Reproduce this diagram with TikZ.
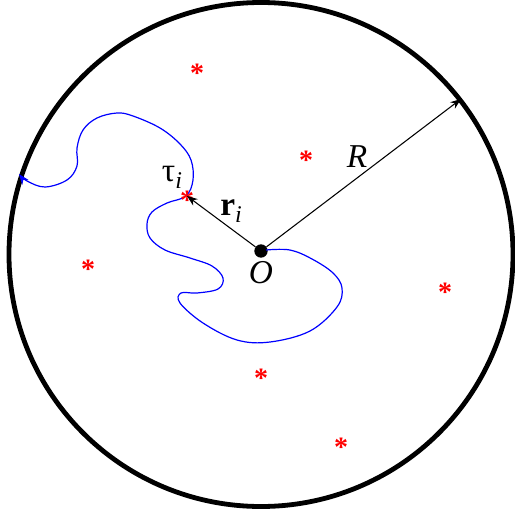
\documentclass[tikz,border=0pt]{standalone}
\usepackage{fontspec}
\setmainfont{Liberation Serif}
\usetikzlibrary{arrows.meta}
\tikzset{
  lbl/.style={inner sep=0pt, font=\fontsize{25}{28}\selectfont},
  redstar/.style={inner sep=0pt, text=red, font=\fontsize{21}{22}\selectfont\bfseries},
  vec/.style={black, line width=0.8pt, -{Stealth[length=8pt,width=6pt]}},
}
\begin{document}
\begin{tikzpicture}[x=0.75pt,y=-0.75pt]
\useasboundingbox (0,0) rectangle (515,511);
\coordinate (C) at (261,254.5);
\draw[line width=3.6pt] (C) circle [radius=252];
% stars
\foreach \p/\n in {{(197,73)}/s1,{(306,160)}/s2,{(88,269)}/s3,{(445,292)}/s4,{(261,378)}/s5,{(341,447)}/s6}
  \node[redstar] (\n) at \p {*};
% origin
\node[circle, fill=black, minimum size=10pt, inner sep=0pt] (O) at (261,251) {};
\coordinate (T) at (187,196);
\coordinate (Rend) at (461,99);
% blue path
\draw[blue, line width=0.9pt, -{Stealth[length=8pt,width=6pt]}]
  plot[smooth, tension=0.6] coordinates {
  (266,250) (290,250) (312,259) (333,273) (342,288) (337,307) (310,331)
  (270,342) (237,340) (203,323) (180,303) (181,293) (197,293) (218,289)
  (223,278) (212,266) (190,258) (165,250) (150,238) (147,224) (152,212)
  (167,203) (186,196) (193,180) (191,160) (180,144) (160,128) (133,116) (117,113)
  (97,118) (83,130) (77,148) (77,166) (67,180) (45,187) (27,181) (19,174)};
\node[redstar] (s0) at (187,200) {*};
% vectors
\draw[vec] (O) -- (T);
\draw[vec] (O) -- (Rend);
% labels
\node[lbl] (tau) at (172,177) {τ\raisebox{-0.45ex}{\fontsize{18}{20}\selectfont\itshape i}};
\node[lbl] (ri) at (231,211) {\textbf{r}\raisebox{-0.45ex}{\fontsize{18}{20}\selectfont\itshape i}};
\node[lbl] (Rl) at (357,157) {\itshape R};
\node[lbl] (Ol) at (261,273) {\itshape O};
\end{tikzpicture}
\end{document}
